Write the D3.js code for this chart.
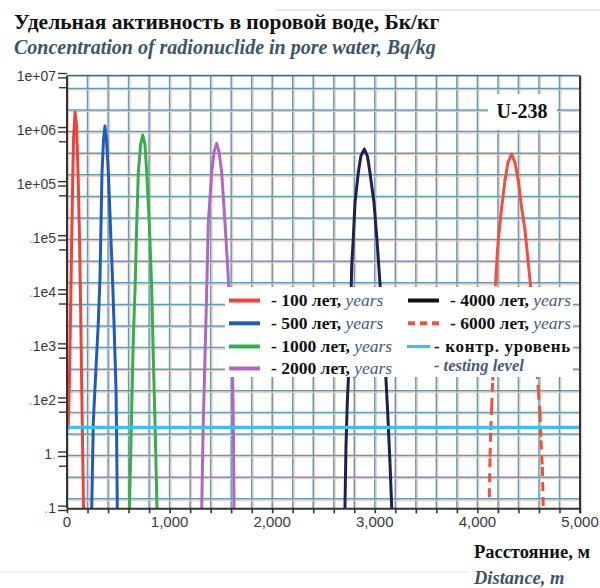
<!DOCTYPE html>
<html>
<head>
<meta charset="utf-8">
<script src="https://cdn.jsdelivr.net/npm/d3@7"></script>
<style>
  body { margin: 0; background: #fff; }
  svg { display: block; }
</style>
</head>
<body>
<div id="chart"></div>
<script>
// distance (m) / activity (Bq/kg) pairs
const years100 = [[10,2.8],[24,23],[34,350],[44,6000],[54,78000],[63,6.5e5],[78,2.1e6],[93,1.2e6],[107,1.8e5],[122,9300],[132,700],[141,36],[151,1.9],[161,0.1]];
const years500 = [[241,0.1],[256,3.8],[283,41],[305,270],[322,1900],[331,17000],[341,1.6e5],[356,6.5e5],[370,1.17e6],[385,6.5e5],[403,1.6e5],[426,12000],[445,1500],[458,270],[478,15],[485,1.2],[490,0.1]];
const years1000 = [[609,0.1],[631,7.5],[646,130],[663,1100],[680,19000],[695,1.6e5],[717,5.3e5],[738,8e5],[760,5.3e5],[777,1.6e5],[802,19000],[826,1100],[841,63],[858,3.8],[877,0.1]];
const years2000 = [[1313,0.1],[1328,3.8],[1345,63],[1362,1100],[1377,19000],[1410,1.6e5],[1433,3.9e5],[1459,5.6e5],[1482,3.9e5],[1508,1.6e5],[1540,19000],[1572,1900],[1594,200],[1615,23],[1623,1.8],[1628,0.1]];
const years4000 = [[2709,0.1],[2719,1.35],[2732,9],[2742,24],[2763,310],[2775,3000],[2791,10500],[2807,45000],[2839,1.6e5],[2865,3.3e5],[2898,4.4e5],[2929,3.2e5],[2953,1.6e5],[2992,45000],[3019,10500],[3044,2200],[3080,200],[3109,24],[3126,5.8],[3148,0.69],[3165,0.1]];
const years6000 = [[4116,0.16],[4123,0.9],[4130,2.8],[4139,7.5],[4149,23],[4162,200],[4176,1350],[4196,6000],[4213,14000],[4237,37000],[4269,1.17e5],[4298,2.5e5],[4334,3.5e5],[4366,2.5e5],[4398,1.17e5],[4431,37000],[4464,14000],[4493,3900],[4522,1100],[4561,130],[4594,15],[4610,5.8],[4620,1.8],[4633,0.58],[4642,0.1]];
const testingLevel = 3.15;

const yTickValues = [1e7, 1e6, 1e5, 1e4, 1e3, 1e2, 10, 1, 0.1];
const yTickLabels = ['1e+07', '1e+06', '1e+05', '.1e5', '.1e4', '.1e3', '.1e2', '1.', '.1'];
const xTickValues = [0, 1000, 2000, 3000, 4000, 5000];

const width = 600;
const height = 588;
const plot = { left: 67, right: 580, top: 75.7, bottom: 508.3 };

const svg = d3.select('#chart').append('svg')
  .attr('width', width)
  .attr('height', height);

svg.append('rect').attr('width', width).attr('height', height).attr('fill', '#fff');

// faint scan edges
svg.append('line').attr('x1', 275).attr('x2', 600).attr('y1', 10).attr('y2', 10)
  .attr('stroke', '#ececec').attr('stroke-width', 2);
svg.append('line').attr('x1', 0).attr('x2', 468).attr('y1', 572).attr('y2', 572)
  .attr('stroke', '#ececec').attr('stroke-width', 1.5);

const x = d3.scaleLinear().domain([0, 5000]).range([plot.left, plot.right]);
const y = d3.scaleLog().domain([0.1, 1e7]).range([plot.bottom, plot.top]);

// titles
svg.append('text')
  .attr('x', 14).attr('y', 29)
  .style('font-family', 'Liberation Serif, serif')
  .style('font-weight', 'bold')
  .style('font-size', '21.5px')
  .style('fill', '#111')
  .text('Удельная активность в поровой воде, Бк/кг');

svg.append('text')
  .attr('x', 14).attr('y', 54)
  .style('font-family', 'Liberation Serif, serif')
  .style('font-weight', 'bold')
  .style('font-style', 'italic')
  .style('font-size', '20px')
  .style('fill', '#3d5468')
  .text('Concentration of radionuclide in pore water, Bq/kg');

// grid
const grid = svg.append('g');
const vLines = d3.range(0, 5001, 200);
const hLines = d3.range(20).map((k) => 88.4 + 21.6 * k);

vLines.forEach((d) => {
  grid.append('line')
    .attr('x1', x(d) + 1.5).attr('x2', x(d) + 1.5)
    .attr('y1', plot.top).attr('y2', plot.bottom)
    .attr('stroke', '#f6c3b4').attr('stroke-width', 1);
  grid.append('line')
    .attr('x1', x(d)).attr('x2', x(d))
    .attr('y1', plot.top).attr('y2', plot.bottom)
    .attr('stroke', '#5f9cb6').attr('stroke-width', 1.5);
});
hLines.forEach((yy) => {
  grid.append('line')
    .attr('x1', plot.left).attr('x2', plot.right)
    .attr('y1', yy + 1.5).attr('y2', yy + 1.5)
    .attr('stroke', '#f6c3b4').attr('stroke-width', 1);
  grid.append('line')
    .attr('x1', plot.left).attr('x2', plot.right)
    .attr('y1', yy).attr('y2', yy)
    .attr('stroke', '#5f9cb6').attr('stroke-width', 1.5);
});

svg.append('defs').append('clipPath').attr('id', 'clip')
  .append('rect')
  .attr('x', plot.left).attr('y', plot.top)
  .attr('width', plot.right - plot.left).attr('height', plot.bottom - plot.top);

// curves
const line = d3.line()
  .x((d) => x(d[0]))
  .y((d) => y(d[1]));

const series = [
  { data: years100, color: '#ef4238' },
  { data: years500, color: '#1d5cbd' },
  { data: years1000, color: '#33b04b' },
  { data: years2000, color: '#b067c4' },
  { data: years4000, color: '#1c2250' },
];

const curves = svg.append('g').attr('clip-path', 'url(#clip)');

svg.append('line')
  .attr('x1', x(0)).attr('x2', x(5000))
  .attr('y1', y(testingLevel)).attr('y2', y(testingLevel))
  .attr('stroke', '#3ec0e4').attr('stroke-width', 3.2);

series.forEach((s) => {
  curves.append('path')
    .datum(s.data)
    .attr('fill', 'none')
    .attr('stroke', s.color)
    .attr('stroke-width', 3)
    .attr('stroke-linejoin', 'round')
    .attr('d', line);
});

// 6000 years: dense top looks solid, sparse tails show the dashes
d3.pairs(years6000).forEach(([a, b]) => {
  const solid = a[1] >= 1000 && b[1] >= 1000;
  curves.append('path')
    .datum([a, b])
    .attr('fill', 'none')
    .attr('stroke', '#f2503f')
    .attr('stroke-width', 3)
    .attr('stroke-linecap', solid ? 'round' : 'butt')
    .attr('stroke-dasharray', solid ? null : '9,6')
    .attr('d', line);
});

// frame
svg.append('line').attr('x1', plot.left).attr('x2', plot.left).attr('y1', plot.top).attr('y2', plot.bottom)
  .attr('stroke', '#333').attr('stroke-width', 2);
svg.append('line').attr('x1', plot.right).attr('x2', plot.right).attr('y1', plot.top).attr('y2', plot.bottom + 5)
  .attr('stroke', '#333').attr('stroke-width', 2);
svg.append('line').attr('x1', plot.left).attr('x2', plot.right).attr('y1', plot.top).attr('y2', plot.top)
  .attr('stroke', '#4a6f82').attr('stroke-width', 1.8);

// x axis
const xAxis = svg.append('g')
  .attr('transform', `translate(0,${plot.bottom})`)
  .call(d3.axisBottom(x).tickValues(vLines).tickSize(5).tickSizeOuter(0).tickFormat(''));
xAxis.select('.domain').attr('stroke', '#333').attr('stroke-width', 2);
xAxis.selectAll('.tick line').attr('stroke', '#333').attr('stroke-width', 1.6);

svg.append('g').selectAll('text')
  .data(xTickValues)
  .join('text')
  .attr('x', (d) => x(d))
  .attr('y', 527)
  .attr('text-anchor', 'middle')
  .style('font-family', 'Liberation Sans, Arial, sans-serif')
  .style('font-size', '15px')
  .style('fill', '#3a3a3a')
  .text((d) => d3.format(',')(d));

// y axis
const yAxis = svg.append('g');
yTickValues.forEach((v, i) => {
  const yy = y(v);
  [-2.2, 2.2].forEach((off) => {
    yAxis.append('line')
      .attr('x1', 58).attr('x2', plot.left)
      .attr('y1', yy + off).attr('y2', yy + off)
      .attr('stroke', '#333').attr('stroke-width', 1.4);
  });
  if (i < yTickValues.length - 1) {
    yAxis.append('line')
      .attr('x1', 59).attr('x2', plot.left)
      .attr('y1', yy + 12).attr('y2', yy + 12)
      .attr('stroke', '#333').attr('stroke-width', 1.4);
  }
  const label = yTickLabels[i];
  const t = yAxis.append('text')
    .attr('x', 56).attr('y', yy + 5)
    .attr('text-anchor', 'end')
    .style('font-family', 'Liberation Sans, Arial, sans-serif')
    .style('font-size', '14px')
    .style('fill', '#3a3a3a');
  if (label.startsWith('.')) {
    t.append('tspan').style('fill', '#4bb3d0').text('.');
    t.append('tspan').text(label.slice(1));
  } else if (label.endsWith('.')) {
    t.append('tspan').text(label.slice(0, -1));
    t.append('tspan').style('fill', '#4bb3d0').text('.');
  } else {
    t.text(label);
  }
});

// U-238 badge
svg.append('rect')
  .attr('x', 488).attr('y', 94).attr('width', 69).attr('height', 36)
  .attr('fill', '#fff');
svg.append('text')
  .attr('x', 522).attr('y', 118)
  .attr('text-anchor', 'middle')
  .style('font-family', 'Liberation Serif, serif')
  .style('font-weight', 'bold')
  .style('font-size', '20px')
  .style('fill', '#111')
  .text('U-238');

// legend
const legend = svg.append('g');
legend.append('rect')
  .attr('x', 225).attr('y', 287).attr('width', 348).attr('height', 90)
  .attr('fill', '#fff');

const legendItems = [
  { label: '- 100 лет, ', color: '#ef4238', dash: null, col: 0, row: 0 },
  { label: '- 500 лет, ', color: '#1d5cbd', dash: null, col: 0, row: 1 },
  { label: '- 1000 лет, ', color: '#33b04b', dash: null, col: 0, row: 2 },
  { label: '- 2000 лет, ', color: '#b067c4', dash: null, col: 0, row: 3 },
  { label: '- 4000 лет, ', color: '#111', dash: null, col: 1, row: 0 },
  { label: '- 6000 лет, ', color: '#f2503f', dash: '7,5', col: 1, row: 1 },
];
const colX = [229, 408];
const rowY = [300.5, 323.3, 346.5, 368.5];

legendItems.forEach((d) => {
  const ly = rowY[d.row];
  legend.append('line')
    .attr('x1', colX[d.col]).attr('x2', colX[d.col] + 31)
    .attr('y1', ly).attr('y2', ly)
    .attr('stroke', d.color).attr('stroke-width', 4)
    .attr('stroke-dasharray', d.dash);
  const t = legend.append('text')
    .attr('x', colX[d.col] + 42).attr('y', ly + 5.5)
    .style('font-family', 'Liberation Serif, serif')
    .style('font-size', '17.5px');
  t.append('tspan').style('font-weight', 'bold').style('fill', '#111').text(d.label);
  t.append('tspan').style('font-style', 'italic').style('fill', '#465a7a').text('years');
});

legend.append('line')
  .attr('x1', 407).attr('x2', 430)
  .attr('y1', rowY[2]).attr('y2', rowY[2])
  .attr('stroke', '#3ec0e4').attr('stroke-width', 3.2);
legend.append('text')
  .attr('x', 434).attr('y', rowY[2] + 5.5)
  .style('font-family', 'Liberation Serif, serif')
  .style('font-weight', 'bold')
  .style('font-size', '17px')
  .style('letter-spacing', '0.7px')
  .style('fill', '#111')
  .text('- контр. уровень');
legend.append('text')
  .attr('x', 434).attr('y', rowY[3] + 2)
  .style('font-family', 'Liberation Serif, serif')
  .style('font-weight', 'bold')
  .style('font-style', 'italic')
  .style('font-size', '16.5px')
  .style('fill', '#465a7a')
  .text('- testing level');

// axis titles
svg.append('text')
  .attr('x', 590).attr('y', 558)
  .attr('text-anchor', 'end')
  .style('font-family', 'Liberation Serif, serif')
  .style('font-weight', 'bold')
  .style('font-size', '18.5px')
  .style('fill', '#111')
  .text('Расстояние, м');

svg.append('text')
  .attr('x', 474).attr('y', 584)
  .style('font-family', 'Liberation Serif, serif')
  .style('font-weight', 'bold')
  .style('font-style', 'italic')
  .style('font-size', '18.5px')
  .style('fill', '#3d5468')
  .text('Distance, m');
</script>
</body>
</html>
